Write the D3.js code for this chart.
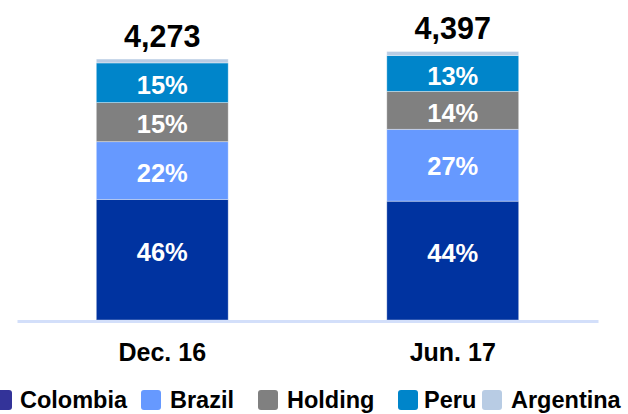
<!DOCTYPE html>
<html>
<head>
<meta charset="utf-8">
<script src="https://cdn.jsdelivr.net/npm/d3@7"></script>
<style>
  body { margin: 0; background: #fff; }
  text { font-family: "Liberation Sans", Arial, sans-serif; font-weight: bold; }
</style>
</head>
<body>
<script>
// data (amounts, shares given as labels)
var periods = ["Dec. 16", "Jun. 17"];
var countries = ["Colombia", "Brazil", "Holding", "Peru", "Argentina"];
var colombia = [1975, 1946];
var brazil = [945, 1177];
var holding = [640, 621];
var peru = [650, 588];
var argentina = [63, 65];
var totals = [4273, 4397];

var width = 628, height = 414;
var baseline = 320;

var svg = d3.select("body").append("svg")
  .attr("width", width)
  .attr("height", height);

var rows = periods.map(function(p, i) {
  return {
    period: p,
    total: totals[i],
    Colombia: colombia[i],
    Brazil: brazil[i],
    Holding: holding[i],
    Peru: peru[i],
    Argentina: argentina[i]
  };
});

var stack = d3.stack().keys(countries);
var series = stack(rows);

var x = d3.scaleBand()
  .domain(periods)
  .range([17, 598])
  .paddingInner(0.546)
  .paddingOuter(0.273);

var y = d3.scaleLinear()
  .domain([0, 5240])
  .range([baseline, 0]);

var color = d3.scaleOrdinal()
  .domain(countries)
  .range(["#0033a0", "#6699ff", "#808080", "#0085ca", "#b8cce4"]);

// legend swatch for Colombia is a bit more purple than the bar
var legendColor = d3.scaleOrdinal()
  .domain(countries)
  .range(["#333399", "#6699ff", "#808080", "#0085ca", "#b8cce4"]);

//bars
var groups = svg.selectAll("g.layer")
  .data(series)
  .enter().append("g")
  .attr("class", "layer")
  .attr("fill", function(d) { return color(d.key); });

groups.selectAll("rect")
  .data(function(d) { return d; })
  .enter().append("rect")
  .attr("x", function(d) { return x(d.data.period); })
  .attr("y", function(d) { return y(d[1]); })
  .attr("width", x.bandwidth())
  .attr("height", function(d) { return y(d[0]) - y(d[1]); })
  .attr("stroke", "#ffffff")
  .attr("stroke-opacity", 0.45)
  .attr("stroke-width", 0.8);

// percentage labels (not for Argentina, too thin)
// the big bottom labels sit a little above the middle in the original
groups.filter(function(d) { return d.key !== "Argentina"; })
  .selectAll("text")
  .data(function(d) { return d; })
  .enter().append("text")
  .attr("x", function(d) { return x(d.data.period) + x.bandwidth() / 2; })
  .attr("y", function(d) {
    var h = y(d[0]) - y(d[1]);
    return (y(d[0]) + y(d[1])) / 2 - Math.max(0, h - 60) * 0.16 + 2;
  })
  .attr("dy", "0.36em")
  .attr("text-anchor", "middle")
  .attr("fill", "#ffffff")
  .style("font-size", "25.5px")
  .text(function(d) { return Math.round((d[1] - d[0]) / d.data.total * 100) + "%"; });

// totals on top
svg.selectAll("text.total")
  .data(rows)
  .enter().append("text")
  .attr("class", "total")
  .attr("x", function(d) { return x(d.period) + x.bandwidth() / 2; })
  .attr("y", function(d) { return y(d.total) - 12; })
  .attr("text-anchor", "middle")
  .attr("fill", "#000")
  .style("font-size", "30.5px")
  .text(function(d) { return d3.format(",")(d.total); });

// x axis
var xAxis = svg.append("g")
  .attr("transform", "translate(0," + (baseline + 1) + ")")
  .call(d3.axisBottom(x).tickSize(0).tickPadding(22));

xAxis.select(".domain")
  .attr("stroke", "#d3dffa")
  .attr("stroke-width", 3);

xAxis.selectAll("text")
  .attr("fill", "#000")
  .style("font-size", "25px")
  .style("font-family", "'Liberation Sans', Arial, sans-serif")
  .style("font-weight", "bold");

// legend
var legendX = [0, 141, 258, 398, 482];
var legend = svg.selectAll("g.legend")
  .data(countries)
  .enter().append("g")
  .attr("class", "legend")
  .attr("transform", function(d, i) { return "translate(" + legendX[i] + ",390)"; });

legend.append("rect")
  .attr("x", function(d, i) { return i === 0 ? -8 : 0; })
  .attr("width", 20)
  .attr("height", 20)
  .attr("rx", 3)
  .attr("fill", function(d) { return legendColor(d); });

legend.append("text")
  .attr("x", function(d, i) { return i === 0 ? 20 : (i === 3 ? 26 : 29); })
  .attr("y", 18)
  .attr("fill", "#000")
  .style("font-size", "23.5px")
  .text(function(d) { return d; });
</script>
</body>
</html>
